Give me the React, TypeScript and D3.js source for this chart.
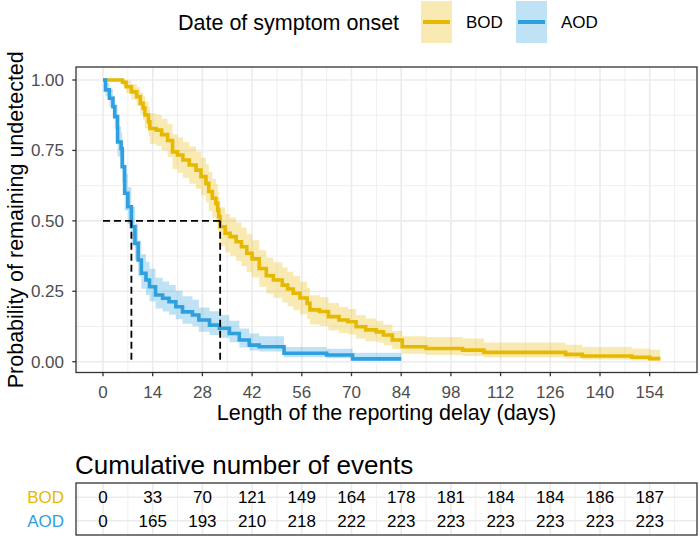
import React from "react";
import * as d3 from "d3";

// ---------- data ----------
const groups = ["BOD", "AOD"];
const colors = ["#E7B800", "#2E9FDF"];

const bodTime = [0, 5.5, 6.5, 8, 9.5, 10.5, 11.3, 11.8, 12.8, 13.2, 15, 16.5, 18.2, 19.6, 21, 22.5, 24.3, 26.2, 27.6, 29, 29.8, 30.8, 31.8, 32.3, 32.6, 33, 34.4, 35.8, 37.5, 39, 40.5, 42, 44, 46, 48, 50.5, 52, 53.6, 55.5, 57.5, 58.3, 61, 63.5, 66.5, 69, 71.3, 74, 77, 79, 81.5, 84.3, 91, 101.3, 107.3, 130.3, 135, 149, 154, 157];
const bodSurv = [1.0, 0.992, 0.976, 0.958, 0.941, 0.917, 0.9, 0.876, 0.852, 0.828, 0.822, 0.806, 0.785, 0.745, 0.734, 0.716, 0.698, 0.68, 0.657, 0.633, 0.604, 0.58, 0.562, 0.538, 0.515, 0.479, 0.456, 0.444, 0.426, 0.408, 0.385, 0.365, 0.331, 0.305, 0.29, 0.272, 0.258, 0.243, 0.226, 0.207, 0.184, 0.178, 0.16, 0.148, 0.142, 0.124, 0.113, 0.106, 0.095, 0.077, 0.053, 0.047, 0.041, 0.033, 0.026, 0.02, 0.016, 0.011, 0.011];
const bodLower = [1.0, 0.978, 0.954, 0.93, 0.908, 0.878, 0.857, 0.829, 0.801, 0.774, 0.767, 0.75, 0.727, 0.683, 0.671, 0.652, 0.632, 0.614, 0.59, 0.565, 0.535, 0.511, 0.493, 0.469, 0.446, 0.41, 0.388, 0.376, 0.358, 0.34, 0.318, 0.299, 0.266, 0.241, 0.227, 0.21, 0.197, 0.183, 0.168, 0.152, 0.132, 0.127, 0.112, 0.102, 0.097, 0.082, 0.073, 0.068, 0.059, 0.045, 0.028, 0.024, 0.02, 0.015, 0.011, 0.008, 0.005, 0.003, 0.003];
const bodUpper = [1.0, 1.0, 0.997, 0.986, 0.974, 0.956, 0.943, 0.923, 0.903, 0.882, 0.877, 0.862, 0.843, 0.807, 0.797, 0.78, 0.764, 0.746, 0.724, 0.701, 0.673, 0.649, 0.631, 0.607, 0.584, 0.548, 0.524, 0.512, 0.494, 0.476, 0.452, 0.431, 0.396, 0.369, 0.353, 0.334, 0.319, 0.303, 0.284, 0.262, 0.236, 0.229, 0.208, 0.194, 0.187, 0.166, 0.153, 0.144, 0.131, 0.109, 0.09, 0.088, 0.082, 0.068, 0.06, 0.052, 0.047, 0.042, 0.042];

const aodTime = [0, 0.7, 1.8, 2.8, 3.3, 4.1, 5.1, 5.4, 6.1, 7.0, 8.0, 9.0, 9.9, 10.8, 12.1, 13.1, 14.8, 16.8, 18.6, 20.5, 22.4, 25.2, 27.0, 30.0, 32.8, 35.6, 38.4, 41.2, 44.0, 51.0, 63.0, 70.3, 84];
const aodSurv = [1.0, 0.965, 0.935, 0.905, 0.87, 0.78, 0.757, 0.692, 0.598, 0.55, 0.479, 0.42, 0.361, 0.314, 0.29, 0.266, 0.237, 0.225, 0.213, 0.195, 0.177, 0.166, 0.148, 0.13, 0.119, 0.1, 0.077, 0.059, 0.053, 0.03, 0.024, 0.01, 0.01];
const aodLower = [1.0, 0.941, 0.903, 0.867, 0.827, 0.728, 0.703, 0.634, 0.537, 0.489, 0.418, 0.36, 0.303, 0.259, 0.237, 0.215, 0.189, 0.178, 0.167, 0.151, 0.135, 0.126, 0.106, 0.095, 0.085, 0.069, 0.05, 0.04, 0.036, 0.016, 0.012, 0.003, 0.003];
const aodUpper = [1.0, 0.989, 0.967, 0.944, 0.914, 0.835, 0.814, 0.755, 0.666, 0.619, 0.549, 0.49, 0.43, 0.381, 0.355, 0.33, 0.298, 0.285, 0.272, 0.252, 0.232, 0.22, 0.192, 0.179, 0.166, 0.145, 0.118, 0.1, 0.09, 0.052, 0.046, 0.032, 0.032];

const medians = [33, 8];

const xTicks = [0, 14, 28, 42, 56, 70, 84, 98, 112, 126, 140, 154];
const yTicks = [0, 0.25, 0.5, 0.75, 1];
const yTickLabels = ["0.00", "0.25", "0.50", "0.75", "1.00"];

const bodAtRisk = [0, 33, 70, 121, 149, 164, 178, 181, 184, 184, 186, 187];
const aodAtRisk = [0, 165, 193, 210, 218, 222, 223, 223, 223, 223, 223, 223];

// ---------- layout ----------
const W = 700, H = 537;
const FONT = "'Liberation Sans', Arial, Helvetica, sans-serif";
const P = { left: 76, right: 697, top: 67, bottom: 372.5 };
const T = { top: 483, bottom: 535 };

export default function App() {
  const x = d3.scaleLinear().domain([0, 154]).range([103, 649.7]);
  const y = d3.scaleLinear().domain([0, 1]).range([361.7, 80]);

  const series = [
    { t: bodTime, s: bodSurv, lo: bodLower, hi: bodUpper },
    { t: aodTime, s: aodSurv, lo: aodLower, hi: aodUpper },
  ];

  const line = d3.line<number>().curve(d3.curveStepAfter);
  const area = d3.area<number>().curve(d3.curveStepAfter);

  const majorX = xTicks;
  const minorX = d3.range(-7, 168, 14).filter((v) => x(v) > P.left && x(v) < P.right);
  const minorY = [0.125, 0.375, 0.625, 0.875];

  const tRowY = d3.scalePoint().domain(groups).range([T.top + 0.6 * ((T.bottom - T.top) / 2.2), T.bottom - 0.6 * ((T.bottom - T.top) / 2.2)]);
  const tables = [bodAtRisk, aodAtRisk];

  const gridColor = "#EBEBEB";

  return (
    <svg width={W} height={H} style={{ position: "absolute", left: 0, top: 0, background: "#fff" }} fontFamily={FONT}>
      {/* legend */}
      <text x={178} y={22} dy="0.35em" fontSize={21.5} fill="#000">Date of symptom onset</text>
      {groups.map((g, i) => {
        const kx = i === 0 ? 421 : 516;
        return (
          <g key={g}>
            <rect x={kx} y={1} width={31} height={42} fill={colors[i]} fillOpacity={0.3} />
            <line x1={kx + 2} x2={kx + 29} y1={22} y2={22} stroke={colors[i]} strokeWidth={4} />
            <text x={kx + 45} y={22} dy="0.35em" fontSize={17} fill="#000">{g}</text>
          </g>
        );
      })}

      {/* main panel */}
      <rect x={P.left} y={P.top} width={P.right - P.left} height={P.bottom - P.top} fill="#fff" />
      {minorX.map((v) => (
        <line key={"mx" + v} x1={x(v)} x2={x(v)} y1={P.top} y2={P.bottom} stroke={gridColor} strokeWidth={0.8} />
      ))}
      {minorY.map((v) => (
        <line key={"my" + v} x1={P.left} x2={P.right} y1={y(v)} y2={y(v)} stroke={gridColor} strokeWidth={0.8} />
      ))}
      {majorX.map((v) => (
        <line key={"MX" + v} x1={x(v)} x2={x(v)} y1={P.top} y2={P.bottom} stroke={gridColor} strokeWidth={1.6} />
      ))}
      {yTicks.map((v) => (
        <line key={"MY" + v} x1={P.left} x2={P.right} y1={y(v)} y2={y(v)} stroke={gridColor} strokeWidth={1.6} />
      ))}

      {series.map((sr, i) => {
        const pts = sr.t.map((_, k) => k);
        const a = area.x((k) => x(sr.t[k])).y0((k) => y(sr.lo[k])).y1((k) => y(sr.hi[k]));
        return <path key={"band" + i} d={a(pts) || ""} fill={colors[i]} fillOpacity={0.3} stroke="none" />;
      })}
      {series.map((sr, i) => {
        const pts = sr.t.map((_, k) => k);
        const l = line.x((k) => x(sr.t[k])).y((k) => y(sr.s[k]));
        return <path key={"line" + i} d={l(pts) || ""} fill="none" stroke={colors[i]} strokeWidth={3.6} />;
      })}

      {/* median lines */}
      <line x1={x(0)} x2={x(d3.max(medians)!)} y1={y(0.5)} y2={y(0.5)} stroke="#000" strokeWidth={1.8} strokeDasharray="7,4" />
      {medians.map((m) => (
        <line key={"med" + m} x1={x(m)} x2={x(m)} y1={y(0.5)} y2={y(0)} stroke="#000" strokeWidth={1.8} strokeDasharray="7,4" />
      ))}

      <rect x={P.left} y={P.top} width={P.right - P.left} height={P.bottom - P.top} fill="none" stroke="#333333" strokeWidth={1.3} />

      {/* axes */}
      {yTicks.map((v, i) => (
        <g key={"yt" + v}>
          <line x1={P.left - 3.7} x2={P.left} y1={y(v)} y2={y(v)} stroke="#333333" strokeWidth={1.3} />
          <text x={P.left - 12} y={y(v)} dy="0.35em" textAnchor="end" fontSize={17} fill="#4D4D4D">{yTickLabels[i]}</text>
        </g>
      ))}
      {xTicks.map((v) => (
        <g key={"xt" + v}>
          <line x1={x(v)} x2={x(v)} y1={P.bottom} y2={P.bottom + 3.7} stroke="#333333" strokeWidth={1.3} />
          <text x={x(v)} y={398} textAnchor="middle" fontSize={17} fill="#4D4D4D">{v}</text>
        </g>
      ))}
      <text x={(P.left + P.right) / 2} y={412} dy="0.35em" textAnchor="middle" fontSize={21.5} fill="#000">
        Length of the reporting delay (days)
      </text>
      <text transform={`translate(15,${(P.top + P.bottom) / 2}) rotate(-90)`} dy="0.35em" textAnchor="middle" fontSize={21.5} fill="#000">
        Probability of remaining undetected
      </text>

      {/* risk table */}
      <text x={75} y={465} dy="0.35em" fontSize={26} fill="#000">Cumulative number of events</text>
      <rect x={P.left} y={T.top} width={P.right - P.left} height={T.bottom - T.top} fill="#fff" />
      {minorX.map((v) => (
        <line key={"tmx" + v} x1={x(v)} x2={x(v)} y1={T.top} y2={T.bottom} stroke={gridColor} strokeWidth={0.8} />
      ))}
      {majorX.map((v) => (
        <line key={"tMX" + v} x1={x(v)} x2={x(v)} y1={T.top} y2={T.bottom} stroke={gridColor} strokeWidth={1.6} />
      ))}
      {groups.map((g) => (
        <line key={"tr" + g} x1={P.left} x2={P.right} y1={tRowY(g)!} y2={tRowY(g)!} stroke={gridColor} strokeWidth={1.6} />
      ))}
      {groups.map((g, gi) => (
        <g key={"row" + g}>
          <text x={64} y={tRowY(g)!} dy="0.35em" textAnchor="end" fontSize={17} fill={colors[gi]}>{g}</text>
          {tables[gi].map((n, k) => (
            <text key={k} x={x(xTicks[k])} y={tRowY(g)!} dy="0.35em" textAnchor="middle" fontSize={17} fill="#000">{n}</text>
          ))}
        </g>
      ))}
      <rect x={P.left} y={T.top} width={P.right - P.left} height={T.bottom - T.top} fill="none" stroke="#333333" strokeWidth={1.3} />
    </svg>
  );
}
